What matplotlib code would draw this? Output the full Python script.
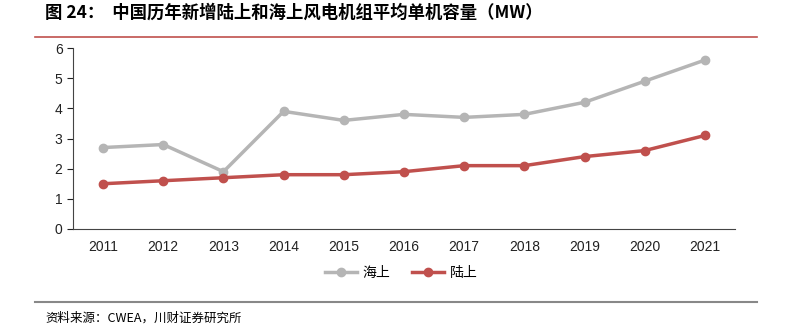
import matplotlib
matplotlib.use("Agg")
import matplotlib.pyplot as plt
from matplotlib.lines import Line2D

plt.rcParams['font.family'] = ['Noto Sans CJK SC', 'DejaVu Sans']

years = ['2011', '2012', '2013', '2014', '2015', '2016', '2017', '2018', '2019', '2020', '2021']
offshore = [2.7, 2.8, 1.9, 3.9, 3.6, 3.8, 3.7, 3.8, 4.2, 4.9, 5.6]
onshore = [1.5, 1.6, 1.7, 1.8, 1.8, 1.9, 2.1, 2.1, 2.4, 2.6, 3.1]
series_names = ['海上', '陆上']
title = '图 24：  中国历年新增陆上和海上风电机组平均单机容量（MW）'
source = '资料来源：CWEA，川财证券研究所'

grey = '#B5B5B5'
red = '#C0504D'

fig = plt.figure(figsize=(7.89, 3.36), dpi=100)
ax = fig.add_axes([73/789, 1-229/336, (735-73)/789, (229-48)/336])

x = list(range(len(years)))
ax.plot(x, offshore, color=grey, lw=2.5, marker='o', ms=6, label=series_names[0])
ax.plot(x, onshore, color=red, lw=2.5, marker='o', ms=6, label=series_names[1])

ax.set_xlim(-0.5, len(years) - 0.5)
ax.set_ylim(0, 6)
ax.set_yticks(range(0, 7))
ax.set_xticks(x)
ax.set_xticklabels(years)
ax.tick_params(axis='both', labelsize=10, colors='#222222', length=4)
ax.tick_params(axis='x', length=0, pad=8)
for s in ['top', 'right']:
    ax.spines[s].set_visible(False)
ax.spines['left'].set_color('#444444')
ax.spines['bottom'].set_color('#444444')
for lab in ax.get_yticklabels() + ax.get_xticklabels():
    lab.set_family('Liberation Sans')

leg = fig.legend(loc='center', bbox_to_anchor=(401/789, 1-273/336), ncol=2, frameon=False,
                 fontsize=10, handlelength=2.3, columnspacing=1.6, handletextpad=0.4)

fig.text(45/789, 1-13/336, title, fontsize=12.5, fontweight='bold', va='center', ha='left')
fig.add_artist(Line2D([35/789, 757/789], [1-37/336, 1-37/336], color='#C0504D', lw=1.2))
fig.add_artist(Line2D([35/789, 757/789], [1-302/336, 1-302/336], color='#888888', lw=1.5))
fig.text(45/789, 1-318/336, source, fontsize=9, style='italic', va='center', ha='left')

fig.savefig('out.png', dpi=100)
